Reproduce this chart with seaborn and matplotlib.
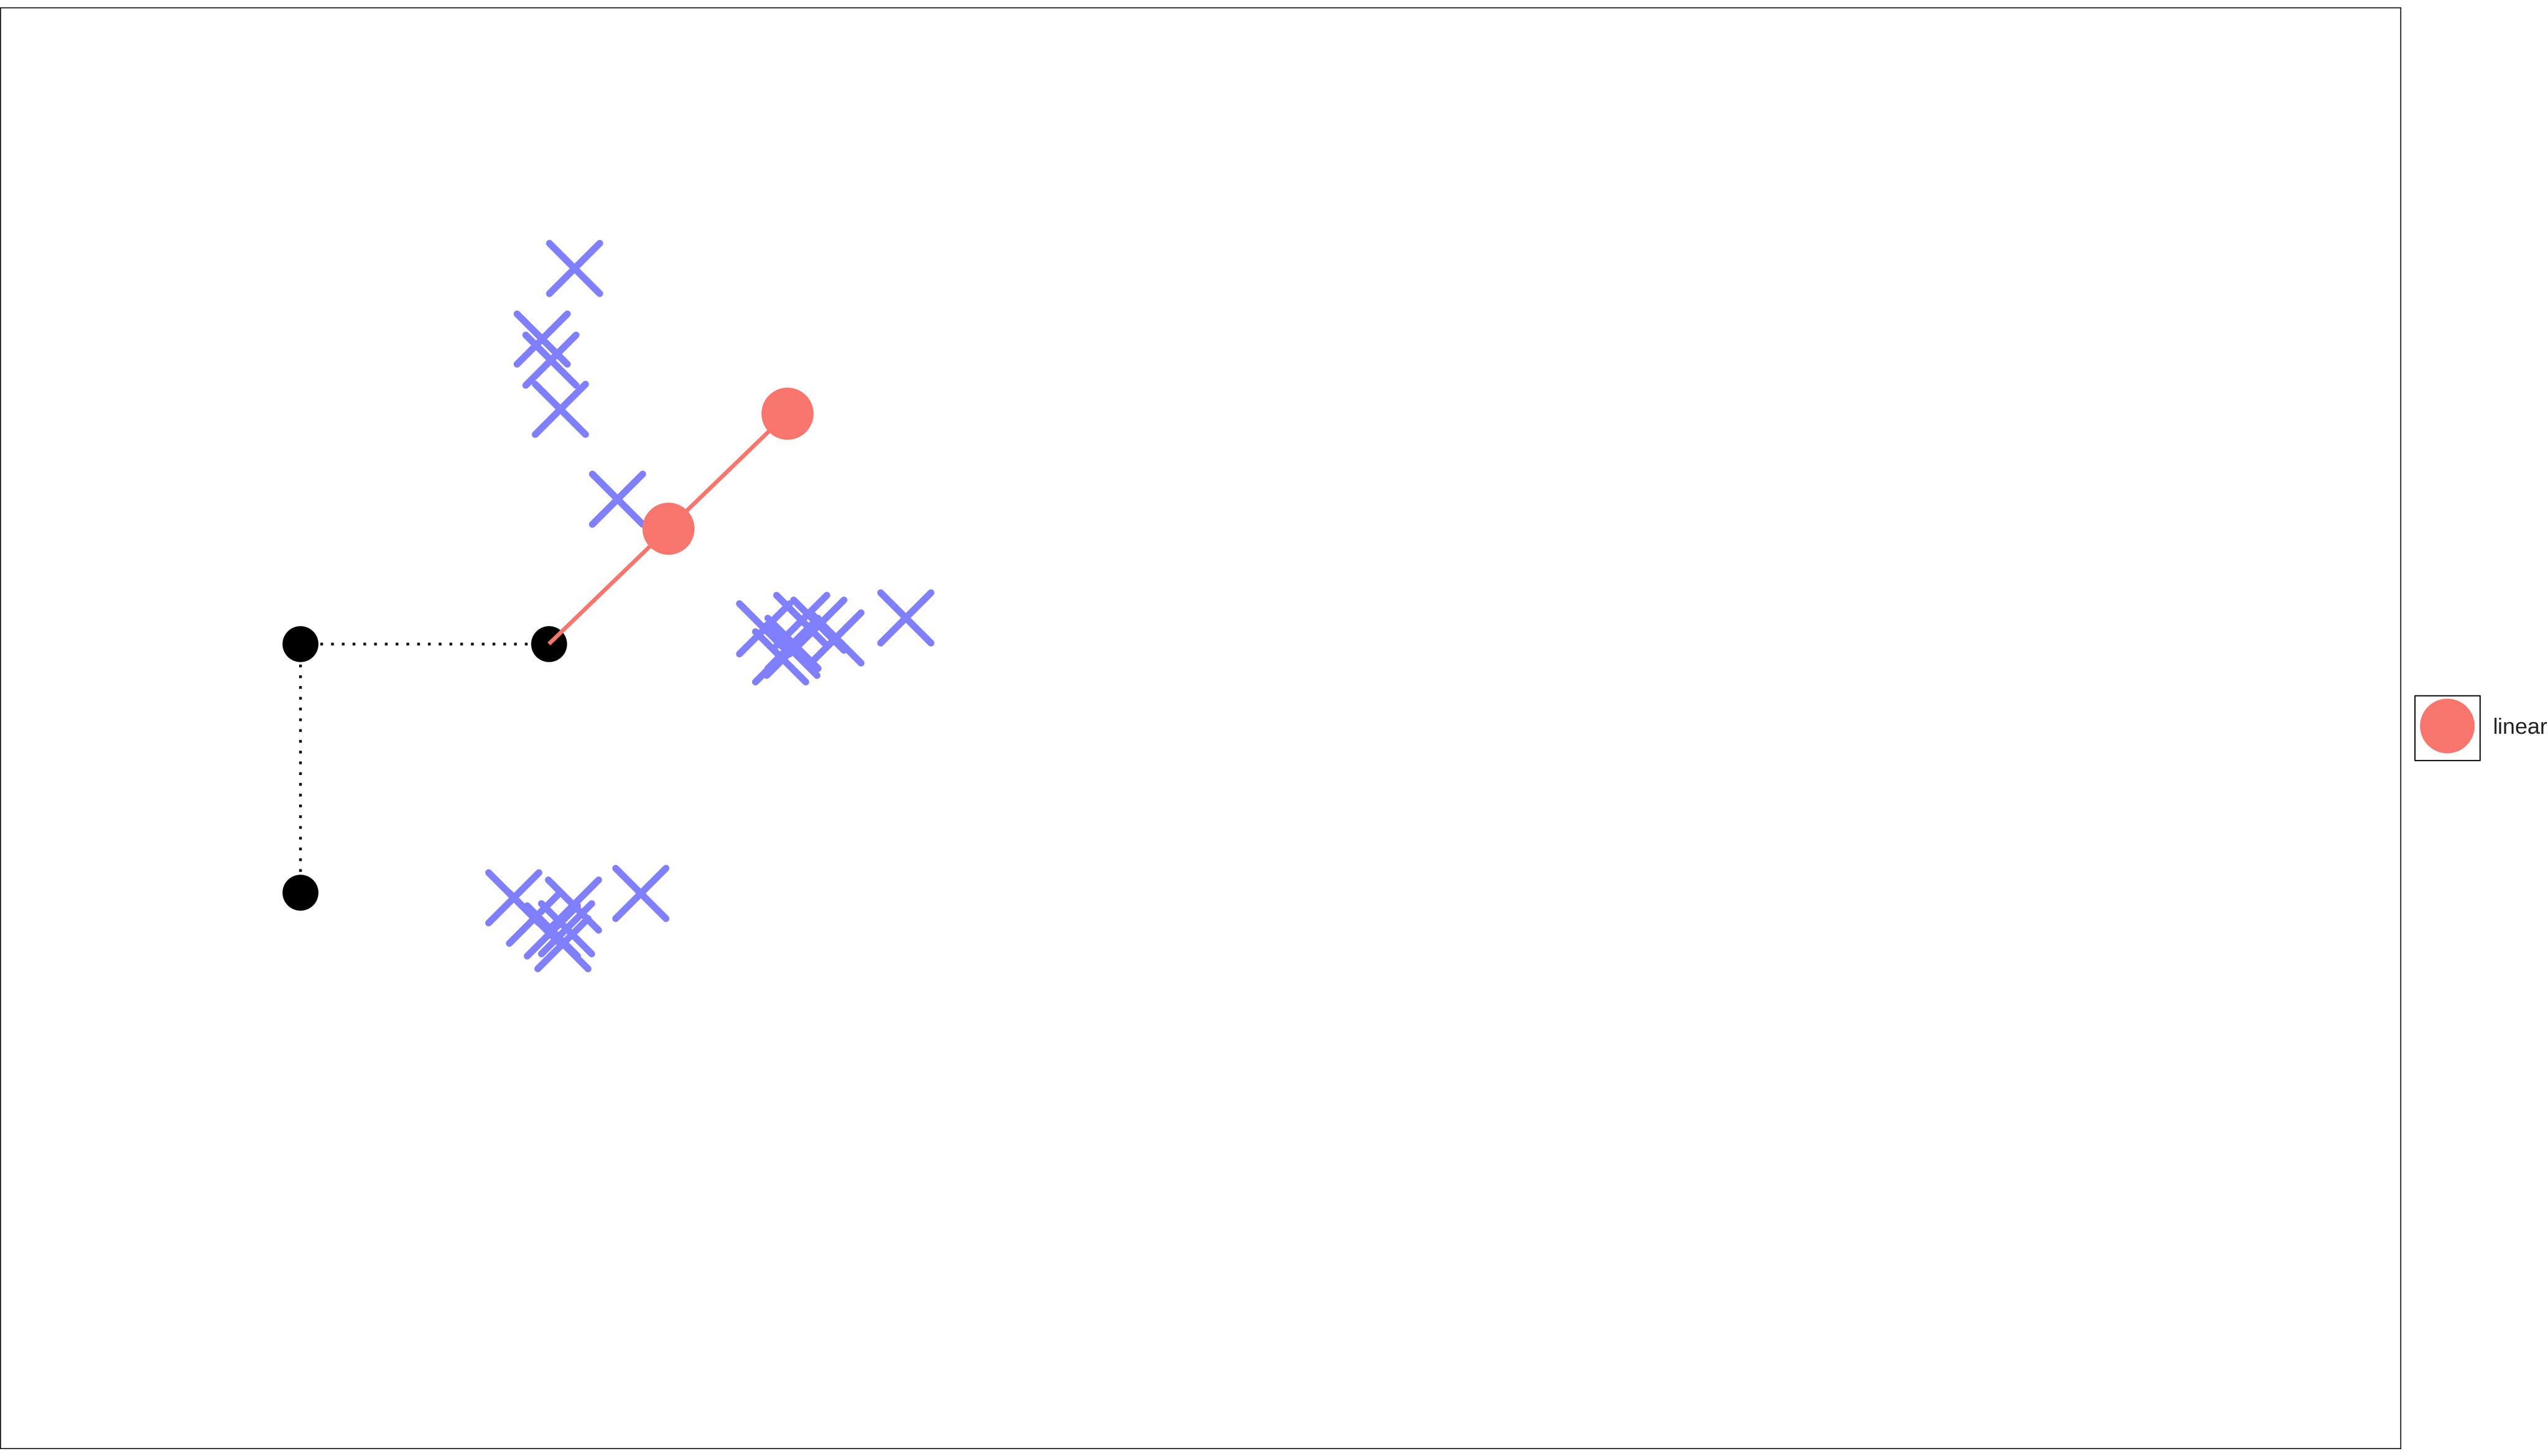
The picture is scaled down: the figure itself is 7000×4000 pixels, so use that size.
import matplotlib
matplotlib.use("Agg")
import matplotlib.pyplot as plt
from matplotlib.lines import Line2D
from matplotlib.patches import Rectangle
import seaborn as sns

# dotted black path, drawn through its three points
path_x = [1.0, 0.0, 0.0]
path_y = [0.0, 0.0, -1.0]

# "linear" series, the line starts at the corner point of the path
linear_x = [1.0, 1.480, 1.959]
linear_y = [0.0, 0.464, 0.927]

# scattered crosses (three loose clusters)
cross_x = [1.102, 0.972, 1.007, 1.045, 1.275,
           1.867, 1.931, 2.016, 2.085, 2.154, 1.981, 1.977, 2.435,
           0.858, 1.098, 0.941, 1.013, 1.070, 1.056, 1.369]
cross_y = [1.511, 1.227, 1.142, 0.944, 0.583,
           0.061, -0.051, 0.095, 0.076, 0.025, 0.003, -0.025, 0.105,
           -1.020, -1.050, -1.102, -1.154, -1.145, -1.205, -1.003]

legend_labels = ["linear"]

RED = "#F8766D"
BLUE = "#8080FF"


def plot_chart():
    sns.set_style("white")
    plt.rcParams['font.family'] = ['Liberation Sans', 'DejaVu Sans']

    fig = plt.figure(figsize=(14, 8), dpi=500)
    ax = fig.add_axes([0.0002, 0.00525, 0.94196, 0.98958])

    # crosses
    sns.scatterplot(x=cross_x, y=cross_y, marker='x', s=396, color=BLUE,
                    linewidth=2.7, ax=ax, zorder=2, legend=False)
    ax.collections[-1].set_capstyle('round')

    # dotted path + black points
    sns.lineplot(x=path_x, y=path_y, sort=False, estimator=None, color='black',
                 linewidth=1.07, linestyle=(0, (1, 2.98)), ax=ax, zorder=3, legend=False)
    sns.scatterplot(x=path_x, y=path_y, s=202, color='black', linewidth=0,
                    ax=ax, zorder=4, legend=False)

    # linear series
    sns.lineplot(x=linear_x, y=linear_y, sort=False, estimator=None, color=RED,
                 linewidth=1.6, solid_capstyle='butt', ax=ax, zorder=5, legend=False)
    sns.scatterplot(x=linear_x[1:], y=linear_y[1:], s=424, color=RED, linewidth=0,
                    ax=ax, zorder=6, legend=False)

    ax.set_xlim(-1.206, 8.448)
    ax.set_ylim(-3.236, 2.560)
    ax.set_xticks([])
    ax.set_yticks([])
    ax.set_xlabel('')
    ax.set_ylabel('')
    for sp in ax.spines.values():
        sp.set_visible(True)
        sp.set_color('black')
        sp.set_linewidth(0.36)

    # legend outside on the right, key drawn in a small box
    handle = Line2D([], [], marker='o', markersize=20.6, color=RED, linestyle='None')
    fig.legend([handle], legend_labels, loc='center left', bbox_to_anchor=(0.94771, 0.5),
               frameon=False, fontsize=8.85, borderpad=0, borderaxespad=0,
               handlelength=2.91, handletextpad=0.585)
    fig.add_artist(Rectangle((0.94771, 0.47775), 0.02557, 0.0445, transform=fig.transFigure,
                             fill=False, edgecolor='black', linewidth=0.48, joinstyle='round'))

    fig.savefig('out.png', dpi=500)


if __name__ == "__main__":
    plot_chart()
